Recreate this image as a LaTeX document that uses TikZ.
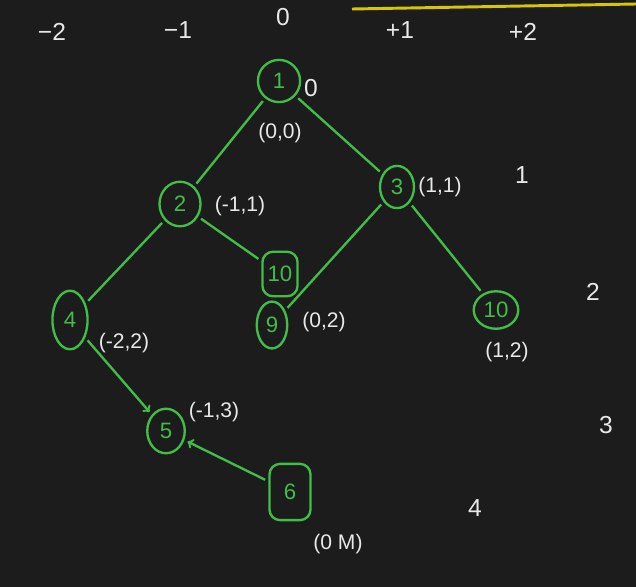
\documentclass[tikz,border=0pt]{standalone}
\usepackage{fontspec}
\setmainfont{Liberation Sans}
\usetikzlibrary{shapes.geometric}

\definecolor{board}{HTML}{1C1C1C}
\definecolor{chalkgreen}{HTML}{41BE48}
\definecolor{chalk}{HTML}{E8E8E8}
\definecolor{marker}{HTML}{D8C700}

\tikzset{
  vtx/.style={ellipse, draw=chalkgreen, line width=2pt, text=chalkgreen,
    inner sep=0pt, font=\fontsize{19}{19}\selectfont},
  vbox/.style={rectangle, rounded corners=9pt, draw=chalkgreen, line width=2pt,
    text=chalkgreen, inner sep=0pt, font=\fontsize{19}{19}\selectfont},
  coordlbl/.style={text=chalk, inner sep=0pt, font=\fontsize{18}{20}\selectfont},
  lvl/.style={text=chalk, inner sep=0pt, font=\fontsize{21}{22}\selectfont},
  tedge/.style={chalkgreen, line width=2pt, shorten <=3pt, shorten >=3pt},
}

\begin{document}
\begin{tikzpicture}[x=0.03cm, y=-0.03cm]
  \fill[board] (0,0) rectangle (636,587);
  \useasboundingbox (0,0) rectangle (636,587);
  \draw[marker, line width=2.5pt] (352,9) -- (636,4);

  % Spalten
  \node[lvl] (cm2) at (52,32) {−2};
  \node[lvl] (cm1) at (178,30) {−1};
  \node[lvl] (c0) at (283,17) {0};
  \node[lvl] (cp1) at (400,30) {+1};
  \node[lvl] (cp2) at (523,32) {+2};

  % Ebenen
  \node[lvl] (l0) at (311,88) {0};
  \node[lvl] (l1) at (522,175) {1};
  \node[lvl] (l2) at (593,292) {2};
  \node[lvl] (l3) at (606,425) {3};
  \node[lvl] (l4) at (475,508) {4};

  % Knoten
  \node[vtx, minimum width=36pt, minimum height=36pt] (n1) at (279,81) {1};
  \node[vtx, minimum width=35pt, minimum height=38pt] (n2) at (180,204) {2};
  \node[vtx, minimum width=29pt, minimum height=36pt] (n3) at (397,187) {3};
  \node[vbox, minimum width=30pt, minimum height=38pt] (n10a) at (280,274) {10};
  \node[vtx, minimum width=26pt, minimum height=40pt] (n9) at (272,325) {9};
  \node[vtx, minimum width=38pt, minimum height=32pt] (n10b) at (496,310) {10};
  \node[vtx, minimum width=30pt, minimum height=50pt] (n4) at (70,320) {4};
  \node[vtx, minimum width=32pt, minimum height=38pt] (n5) at (166,431) {5};
  \node[vbox, minimum width=35pt, minimum height=48pt] (n6) at (290,492) {6};

  % Koordinaten
  \node[coordlbl] (p1) at (280,133) {(0,0)};
  \node[coordlbl] (p2) at (240,206) {(-1,1)};
  \node[coordlbl] (p3) at (440,187) {(1,1)};
  \node[coordlbl] (p9) at (324,322) {(0,2)};
  \node[coordlbl] (p10) at (507,352) {(1,2)};
  \node[coordlbl] (p4) at (124,343) {(-2,2)};
  \node[coordlbl] (p5) at (214,412) {(-1,3)};
  \node[coordlbl] (p6) at (338,544) {(0 M)};

  \draw[tedge] (n1) -- (n2);
  \draw[tedge] (n1) -- (n3);
  \draw[tedge] (n2) -- (n4);
  \draw[tedge] (n2) -- (n10a);
  \draw[tedge] (n3) -- (n9);
  \draw[tedge] (n3) -- (n10b);
  \draw[tedge, ->] (n4) -- (n5);
  \draw[tedge, ->] (n6) -- (n5);
\end{tikzpicture}
\end{document}
